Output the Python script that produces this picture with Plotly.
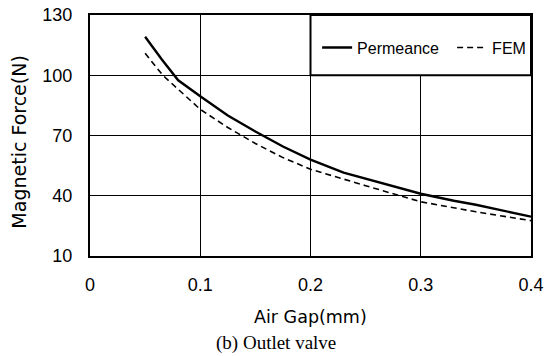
import plotly.graph_objects as go

# Air gap (mm) and magnetic force (N) for the outlet valve
gap_perm = [0.05, 0.065, 0.08, 0.10, 0.125, 0.15, 0.175, 0.20, 0.23, 0.25, 0.30, 0.33, 0.35, 0.40]
force_perm = [119.2, 108.0, 97.5, 89.5, 80.0, 72.0, 64.5, 58.0, 51.5, 48.5, 41.0, 37.5, 35.5, 29.6]

gap_fem = [0.05, 0.066, 0.08, 0.10, 0.125, 0.15, 0.175, 0.20, 0.25, 0.30, 0.35, 0.40]
force_fem = [110.9, 100.0, 93.0, 83.0, 74.0, 66.0, 59.0, 53.2, 45.0, 37.0, 32.0, 27.6]

x_ticks = [0, 0.1, 0.2, 0.3, 0.4]
x_tick_text = ["0", "0.1", "0.2", "0.3", "0.4"]
y_ticks = [10, 40, 70, 100, 130]

FONT = "Liberation Sans, Arial, sans-serif"
TITLE_FONT = "DejaVu Sans, sans-serif"

fig = go.Figure()
fig.add_trace(go.Scatter(x=gap_perm, y=force_perm, mode="lines", name="Permeance",
                         line=dict(color="black", width=2.4)))
fig.add_trace(go.Scatter(x=gap_fem, y=force_fem, mode="lines", name="FEM",
                         line=dict(color="black", width=1.6, dash="6px,4px")))

axis_common = dict(showgrid=True, gridcolor="black", gridwidth=1,
                   showline=True, linecolor="black", linewidth=2, mirror=True,
                   zeroline=False, ticks="", tickfont=dict(family=FONT, size=18, color="black"))

fig.update_xaxes(range=[0, 0.4], tickvals=x_ticks, ticktext=x_tick_text,
                 ticklabelstandoff=11, **axis_common)
fig.update_yaxes(range=[10, 130], tickvals=y_ticks, ticklabelstandoff=12, **axis_common)

# Legend frame in the upper-right cell
fig.add_shape(type="rect", xref="x", yref="y", x0=0.2, x1=0.4, y0=100, y1=130,
              fillcolor="white", line=dict(color="black", width=2), layer="above")

fig.update_layout(
    width=553, height=356,
    margin=dict(l=90, r=22, t=15, b=100, autoexpand=False),
    paper_bgcolor="white", plot_bgcolor="white",
    showlegend=True,
    legend=dict(orientation="h", x=0.515, xanchor="left", y=0.865, yanchor="middle",
                bgcolor="rgba(0,0,0,0)", borderwidth=0,
                font=dict(family=FONT, size=16, color="black"),
                itemwidth=30, tracegroupgap=0,
                entrywidth=90, entrywidthmode="pixels"),
    annotations=[
        dict(text="Magnetic Force(N)", xref="paper", yref="paper", x=-0.163, y=0.475,
             xanchor="center", yanchor="middle", textangle=-90, showarrow=False,
             font=dict(family=TITLE_FONT, size=19, color="black")),
        dict(text="Air Gap(mm)", xref="paper", yref="paper", x=0.499, y=-0.255,
             xanchor="center", yanchor="middle", showarrow=False,
             font=dict(family=TITLE_FONT, size=17.5, color="black")),
        dict(text="(b) Outlet valve", xref="paper", yref="paper", x=0.422, y=-0.362,
             xanchor="center", yanchor="middle", showarrow=False, borderpad=0,
             font=dict(family="Liberation Serif, Times New Roman, serif", size=19, color="black")),
    ],
)

fig.write_html("out.html")
